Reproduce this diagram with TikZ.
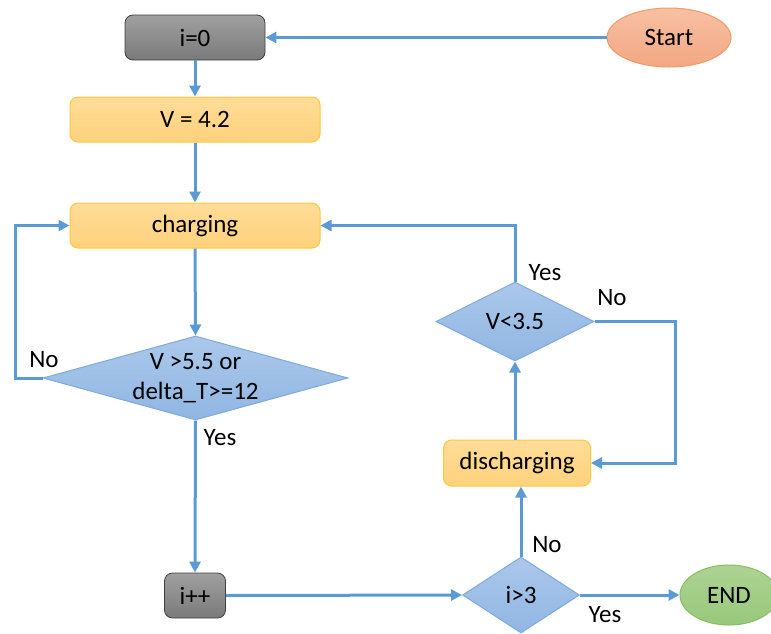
\documentclass[tikz,border=0pt]{standalone}
\usepackage{fontspec}
\setmainfont{Carlito}
\usetikzlibrary{arrows.meta,shapes.geometric}

\definecolor{flow}{HTML}{5B9BD5}
\definecolor{grayTop}{HTML}{A0A0A0}
\definecolor{grayBot}{HTML}{7A7A7A}
\definecolor{grayLine}{HTML}{3F3F3F}
\definecolor{ylwTop}{HTML}{FFDC98}
\definecolor{ylwBot}{HTML}{FFD27C}
\definecolor{ylwLine}{HTML}{FFC73A}
\definecolor{bluTop}{HTML}{ABC8EB}
\definecolor{bluBot}{HTML}{90B6E2}
\definecolor{bluLine}{HTML}{7FAADB}
\definecolor{orgTop}{HTML}{F7C0A2}
\definecolor{orgBot}{HTML}{F3A783}
\definecolor{orgLine}{HTML}{F19A68}
\definecolor{grnTop}{HTML}{ADD393}
\definecolor{grnBot}{HTML}{98C87B}
\definecolor{grnLine}{HTML}{86BE63}

\tikzset{
  every node/.style={font=\fontsize{25}{30}\selectfont, text=black},
  graybox/.style={rectangle, rounded corners=8pt, draw=grayLine, line width=0.8pt,
    top color=grayTop, bottom color=grayBot, inner sep=0pt},
  procbox/.style={rectangle, rounded corners=8pt, draw=ylwLine, line width=1pt,
    top color=ylwTop, bottom color=ylwBot, inner sep=0pt},
  decision/.style={diamond, draw=bluLine, line width=1pt, top color=bluTop,
    bottom color=bluBot, inner sep=0pt},
  startshape/.style={ellipse, draw=orgLine, line width=1pt, top color=orgTop,
    bottom color=orgBot, inner sep=0pt},
  endshape/.style={ellipse, draw=grnLine, line width=1pt, top color=grnTop,
    bottom color=grnBot, inner sep=0pt},
  flowline/.style={draw=flow, line width=3pt,
    -{Triangle[length=11pt,width=11pt]}},
  answer/.style={inner sep=0pt}
}

\begin{document}
\begin{tikzpicture}[x=1pt, y=-1pt]
\useasboundingbox (0,0) rectangle (771,633);

% nodes of the flow
\node[graybox, minimum width=140pt, minimum height=45pt] (i0) at (195,37.5) {i=0};
\node[startshape, minimum width=124pt, minimum height=59pt] (start) at (669,37.5) {Start};
\node[procbox, minimum width=250pt, minimum height=45pt] (v42) at (195,119.5) {V = 4.2};
\node[procbox, minimum width=250pt, minimum height=45pt] (chg) at (195,225.5) {charging};
\node[decision, minimum width=305pt, minimum height=84pt, aspect=3.63,
  label={[name=d1text, align=center, inner sep=0pt]center:V >5.5 or\\delta\_T>=12}]
  (d1) at (195.5,378) {};
\node[graybox, minimum width=61pt, minimum height=45pt] (ipp) at (195,595.5) {i++};
\node[decision, minimum width=117pt, minimum height=76pt, aspect=1.54] (d3) at (521,595) {i>3};
\node[endshape, minimum width=98pt, minimum height=60pt] (finish) at (729,595) {END};
\node[procbox, minimum width=147pt, minimum height=46pt] (dis) at (517,463) {discharging};
\node[decision, minimum width=158pt, minimum height=79pt, aspect=2] (d2) at (515,321.5) {V<3.5};

% connectors
\draw[flowline] (start.west) -- (i0.east);
\draw[flowline] (i0.south) -- (v42.north);
\draw[flowline] (v42.south) -- (chg.north);
\draw[flowline] (chg.south) -- (d1.north);
\draw[flowline] (d1.west) -- ++(-27,0) |- (chg.west);
\draw[flowline] (d1.south) -- (ipp.north);
\draw[flowline] (ipp.east) -- (d3.west);
\draw[flowline] (d3.east) -- (finish.west);
\draw[flowline] (d3.north) -- (d3.north |- dis.south);
\draw[flowline] (d2.south |- dis.north) -- (d2.south);
\draw[flowline] (d2.east) -- ++(81,0) |- (dis.east);
\draw[flowline] (d2.north) |- (chg.east);

% branch labels
\node[answer] (noA) at (44,360) {No};
\node[answer] (yesA) at (220,438) {Yes};
\node[answer] (yesB) at (545,273) {Yes};
\node[answer] (noB) at (612,298) {No};
\node[answer] (noC) at (547,545) {No};
\node[answer] (yesC) at (605,615) {Yes};
\end{tikzpicture}
\end{document}
